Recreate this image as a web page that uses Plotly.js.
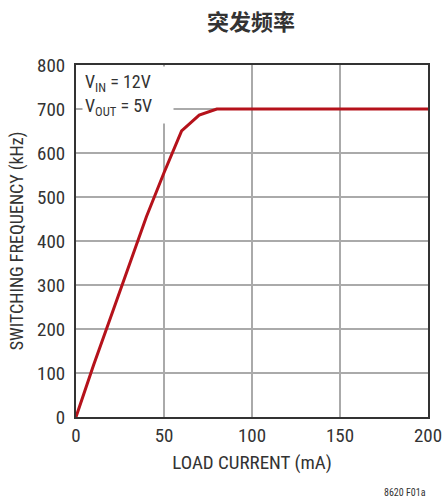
<!DOCTYPE html>
<html><head><meta charset="utf-8">
<script src="https://cdn.plot.ly/plotly-3.0.1.min.js"></script>
<style>body{margin:0;background:#fff}#c{width:442px;height:500px}</style>
</head><body><div id="c"></div>
<script>
const loadCurrent = [0, 10, 20, 30, 40, 50, 60, 70, 80, 100, 150, 200];
const switchingFreq = [0, 118, 230, 345, 455, 555, 650, 686, 700, 700, 700, 700];
const xTicks = [0, 50, 100, 150, 200];
const yTicks = [0, 100, 200, 300, 400, 500, 600, 700, 800];
const chartTitle = '突发频率';
const xTitle = 'LOAD CURRENT (mA)';
const yTitle = 'SWITCHING FREQUENCY (kHz)';
const noteText = 'V<sub>IN</sub> = 12V<br>V<sub>OUT</sub> = 5V';
const figId = '8620 F01a';

const F = '"Liberation Sans Narrow", "Roboto Condensed", "Liberation Sans", sans-serif';
const data = [{
  x: loadCurrent, y: switchingFreq, type: 'scatter', mode: 'lines',
  line: {color: '#b5121b', width: 3}, hoverinfo: 'none'
}];
const layout = {
  width: 442, height: 500,
  margin: {l: 76, r: 14, t: 65, b: 83},
  paper_bgcolor: '#fff', plot_bgcolor: '#fff',
  showlegend: false,
  font: {family: F, color: '#333', size: 18},
  title: {text: '<b>' + chartTitle + '</b>', font: {family: '"Noto Sans CJK SC", sans-serif', size: 22, color: '#333'},
          x: 0.568, xanchor: 'center', y: 0.955, yanchor: 'middle'},
  xaxis: {range: [0, 200], tickvals: xTicks, ticks: '', showgrid: true, gridcolor: '#aaa', gridwidth: 1.5,
          zeroline: false, showline: true, linecolor: '#333', linewidth: 2, mirror: true,
          ticklabeloverflow: 'allow',
          tickfont: {family: F, size: 19, color: '#333'},
          title: {text: xTitle, font: {family: F, size: 19, color: '#333'}, standoff: 10}},
  yaxis: {range: [0, 800], tickvals: yTicks, ticks: '', showgrid: true, gridcolor: '#aaa', gridwidth: 1.5,
          zeroline: false, showline: true, linecolor: '#333', linewidth: 2, mirror: true,
          ticklabelstandoff: 5, ticklabeloverflow: 'allow',
          tickfont: {family: F, size: 19, color: '#333'},
          title: {text: yTitle, font: {family: F, size: 18, color: '#333'}, standoff: 9}},
  annotations: [
    {text: noteText, xref: 'paper', yref: 'paper', x: 0.017, y: 0.997, xanchor: 'left', yanchor: 'top',
     showarrow: false, align: 'left', valign: 'middle', bgcolor: '#fff', borderpad: 2, width: 86, height: 52,
     font: {family: F, size: 18, color: '#333'}},
    {text: figId, xref: 'paper', yref: 'paper', x: 1.0, y: -0.215, xanchor: 'right', yanchor: 'middle',
     showarrow: false, font: {family: F, size: 10, color: '#333'}}
  ]
};
Plotly.newPlot('c', data, layout, {staticPlot: true, displayModeBar: false});
</script></body></html>
